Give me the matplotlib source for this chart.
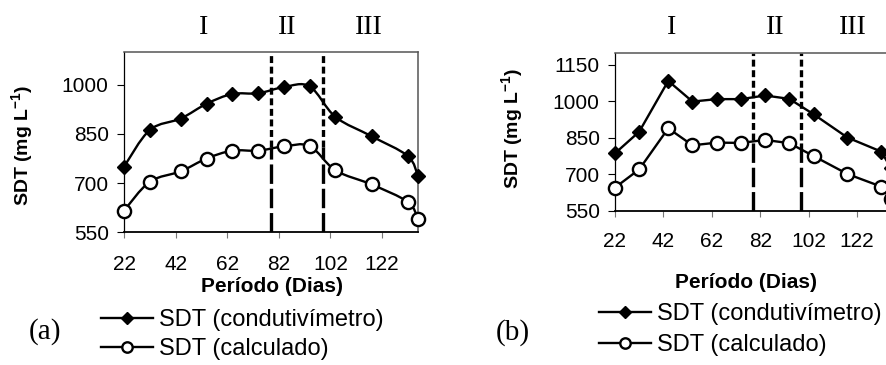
import numpy as np
import matplotlib
matplotlib.use('Agg')
import matplotlib.pyplot as plt
from matplotlib.path import Path
from matplotlib.patches import PathPatch
from matplotlib.lines import Line2D

# ---------------- data ----------------
days = [22, 32, 44, 54, 64, 74, 84, 94, 104, 118, 132, 136]
cond_a = [750, 862, 897, 942, 972, 974, 993, 995, 902, 843, 783, 722]
calc_a = [616, 704, 736, 775, 799, 799, 812, 813, 739, 696, 643, 592]
cond_b = [786, 875, 1084, 999, 1009, 1009, 1024, 1010, 947, 851, 793, 725]
calc_b = [645, 720, 889, 819, 830, 829, 841, 828, 775, 701, 649, 597]
xticks = [22, 42, 62, 82, 102, 122]
yticks_a = [550, 700, 850, 1000]
yticks_b = [550, 700, 850, 1000, 1150]
phase_bounds = [79, 99]
phase_split_a = 810
phase_split_b = 841
phases = ['I', 'II', 'III']
legend_labels = ['SDT (condutivímetro)', 'SDT (calculado)']

plt.rcParams['font.family'] = ['Liberation Sans', 'DejaVu Sans']
plt.rcParams['mathtext.fontset'] = 'custom'
plt.rcParams['mathtext.rm'] = 'Liberation Sans'
plt.rcParams['mathtext.bf'] = 'Liberation Sans:bold'
plt.rcParams['lines.scale_dashes'] = False

W, H = 887, 365
fig = plt.figure(figsize=(W / 100, H / 100), dpi=100)


def px(x0, y0, x1, y1):
    return [x0 / W, 1 - y1 / H, (x1 - x0) / W, (y1 - y0) / H]


axA = fig.add_axes(px(124, 52, 418, 232.3))
axB = fig.add_axes(px(615, 52.7, 891, 210.7))


def smooth_path(x, y):
    pts = np.column_stack([x, y]).astype(float)
    n = len(pts)
    verts = [pts[0]]
    codes = [Path.MOVETO]
    for i in range(n - 1):
        p0 = pts[i - 1] if i > 0 else pts[i]
        p1 = pts[i]
        p2 = pts[i + 1]
        p3 = pts[i + 2] if i + 2 < n else pts[i + 1]
        c1 = p1 + (p2 - p0) / 6
        c2 = p2 - (p3 - p1) / 6
        verts += [c1, c2, p2]
        codes += [Path.CURVE4] * 3
    return Path(verts, codes)


def style(ax, yticks, ylim, xpad, split):
    ax.set_xlim(22, 136)
    ax.set_ylim(*ylim)
    ax.set_xticks(xticks)
    ax.set_yticks(yticks)
    ax.tick_params(axis='y', direction='out', length=5, width=0.8,
                   labelsize=15, pad=6, color='black')
    ax.tick_params(axis='x', direction='out', length=4, width=0.8,
                   labelsize=15, pad=xpad, color='#777777')
    for s in ['top', 'right']:
        ax.spines[s].set_color('#555555')
        ax.spines[s].set_linewidth(1.1)
    ax.spines['left'].set_linewidth(0.9)
    ax.spines['bottom'].set_linewidth(1.3)
    ymin, ymax = ylim
    fr = (split - ymin) / (ymax - ymin)
    for xb in phase_bounds:
        l1 = ax.axvline(xb, fr, 1, color='black', lw=2.4, zorder=1)
        l1.set_dashes((5, 2.6))
        l2 = ax.axvline(xb, 0, fr, color='black', lw=2.4, zorder=1)
        l2.set_dashes((14, 3.5))


style(axA, yticks_a, (550, 1100), 12.3, phase_split_a)
style(axB, yticks_b, (550, 1200), 11.3, phase_split_b)

# panel (a): smoothed lines
for ys in (cond_a, calc_a):
    axA.add_patch(PathPatch(smooth_path(days, ys), fill=False, lw=1.7,
                            edgecolor='black', zorder=2))
axA.plot(days, cond_a, ls='none', marker='D', ms=7.5, color='black', zorder=3,
         clip_on=False)
axA.plot(days, calc_a, ls='none', marker='o', ms=9.5, mfc='white',
         mec='black', mew=1.7, zorder=3, clip_on=False)

# panel (b): straight lines
axB.plot(days, cond_b, '-', marker='D', ms=7.5, color='black', lw=1.7,
         zorder=3, clip_on=False)
axB.plot(days, calc_b, '-', marker='o', ms=9.5, mfc='white', mec='black',
         mew=1.7, color='black', lw=1.7, zorder=3, clip_on=False)

# axis labels
ylab = r'SDT (mg L$^{\mathbf{-1}}$)'
fig.text(23 / W, 1 - 145 / H, ylab, rotation=90, ha='center', va='center',
         fontsize=14, fontweight='bold')
fig.text(513 / W, 1 - 128 / H, ylab, rotation=90, ha='center', va='center',
         fontsize=14, fontweight='bold')
fig.text(272 / W, 1 - 286 / H, 'Período (Dias)', ha='center', va='center',
         fontsize=15, fontweight='bold')
fig.text(746 / W, 1 - 282 / H, 'Período (Dias)', ha='center', va='center',
         fontsize=15, fontweight='bold')

# phase labels
for lab, xp in zip(phases, [204, 287, 369]):
    fig.text(xp / W, 1 - 27 / H, lab, ha='center', va='center', fontsize=20,
             family='Liberation Serif')
for lab, xp in zip(phases, [672, 775, 853]):
    fig.text(xp / W, 1 - 27 / H, lab, ha='center', va='center', fontsize=20,
             family='Liberation Serif')

fig.text(44.5 / W, 1 - 332 / H, '(a)', ha='center', va='center', fontsize=21,
         family='Liberation Serif')
fig.text(513 / W, 1 - 333 / H, '(b)', ha='center', va='center', fontsize=21,
         family='Liberation Serif')

# legends
handles = [Line2D([], [], color='black', lw=1.7, marker='D', ms=6.5),
           Line2D([], [], color='black', lw=1.7, marker='o', ms=7.5,
                  mfc='white', mew=1.7)]
for (x0, y0, sp) in [(101, 309, 0.3), (599, 303, 0.4)]:
    fig.legend(handles, legend_labels, loc='upper left',
               bbox_to_anchor=(x0 / W, 1 - y0 / H), frameon=False,
               fontsize=17, handlelength=2.2, handletextpad=0.25,
               labelspacing=sp, borderpad=0, borderaxespad=0)

fig.savefig('out.png', dpi=100)
